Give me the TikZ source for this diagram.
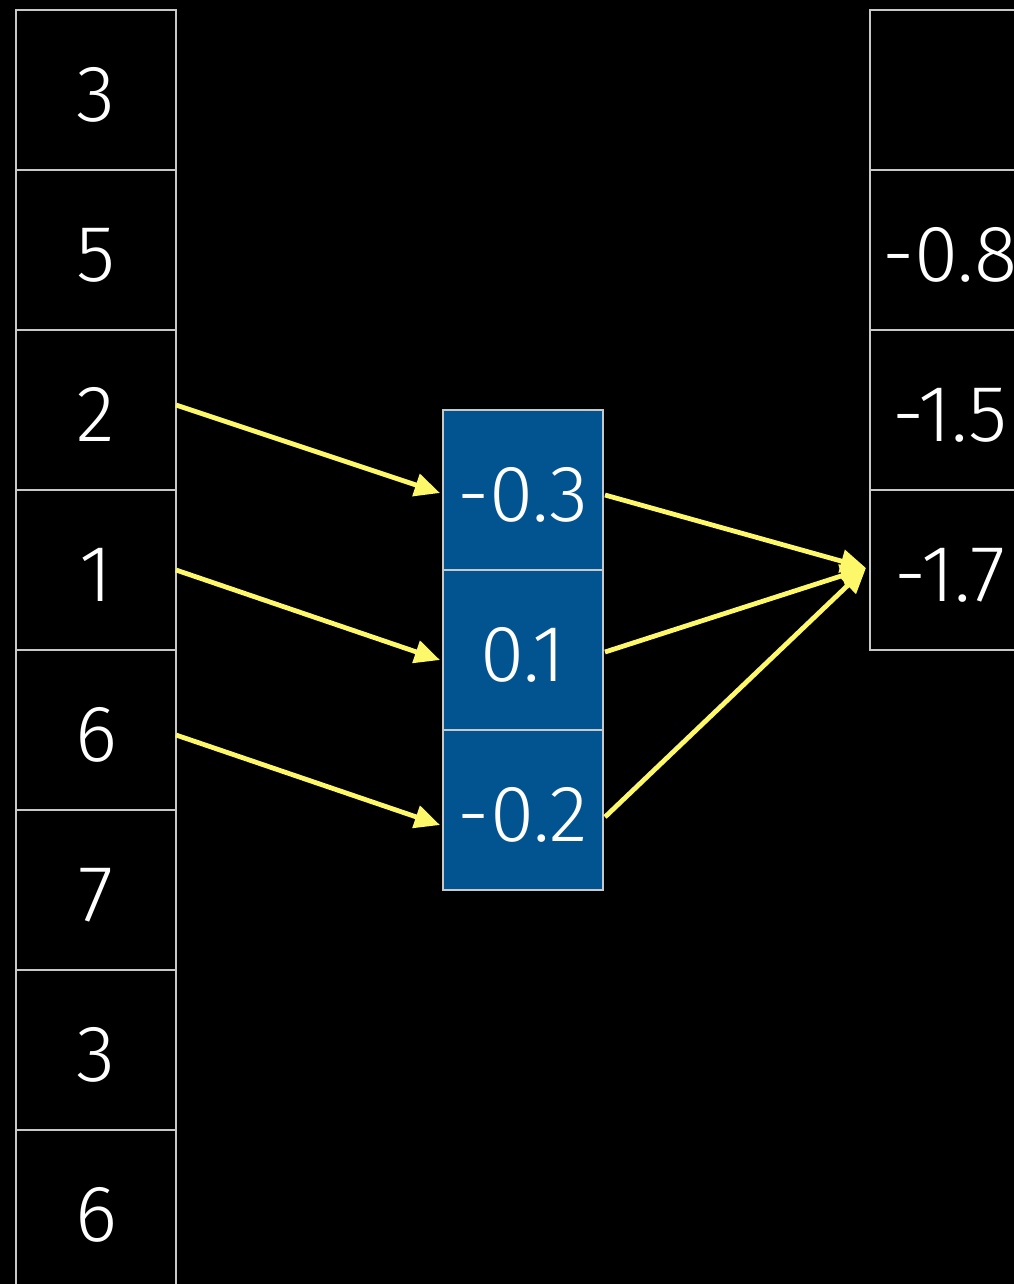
\documentclass[tikz,border=0pt]{standalone}
\usepackage{fontspec}
\setmainfont{Fira Sans Light}
\usetikzlibrary{arrows.meta,calc}
\definecolor{cellline}{RGB}{200,200,200}
\definecolor{cellblue}{RGB}{1,84,143}
\definecolor{arrowyellow}{RGB}{253,248,106}
\begin{document}
\begin{tikzpicture}[x=0.75pt,y=-0.75pt,
  cell/.style={draw=cellline,line width=1.8pt,minimum width=120pt,minimum height=120pt,
    inner sep=0pt,outer sep=0pt,text=white,text height=47pt,text depth=0pt,
    font=\fontsize{60}{64}\selectfont},
  bluecell/.style={cell,fill=cellblue},
  link/.style={draw=arrowyellow,line width=3.6pt,-{Triangle[length=19pt,width=17pt]}}]
  % canvas
  \fill[black] (0,0) rectangle (1014,1284);
  \useasboundingbox (0,0) rectangle (1014,1284);
  \clip (0,0) rectangle (1014,1284);

  % input column
  \foreach \v [count=\i] in {3,5,2,1,6,7,3,6}
    \node[cell] (l\i) at (96,{90+160*(\i-1)}) {\v};

  % weight column
  \node[bluecell] (m1) at (523,490) {-0.3};
  \node[bluecell] (m2) at (523,650) {0.1};
  \node[bluecell] (m3) at (523,810) {-0.2};

  % output column
  \node[cell] (r1) at (950,90) {};
  \node[cell] (r2) at (950,250) {-0.8};
  \node[cell] (r3) at (950,410) {-1.5};
  \node[cell] (r4) at (950,570) {-1.7};

  % inputs to weights
  \draw[link] ($(l3.east)+(0,-5)$) -- ($(m1.west)+(-3,3)$);
  \draw[link] ($(l4.east)+(0,0)$) -- ($(m2.west)+(-3,10)$);
  \draw[link] ($(l5.east)+(0,5)$) -- ($(m3.west)+(-3,15)$);

  % weights to output
  \draw[link] ($(m1.east)+(2,5)$) -- ($(r4.west)+(-4,-2)$);
  \draw[link] ($(m2.east)+(2,2)$) -- ($(r4.west)+(-4,-2)$);
  \draw[link] ($(m3.east)+(2,7)$) -- ($(r4.west)+(-4,-2)$);
\end{tikzpicture}
\end{document}
